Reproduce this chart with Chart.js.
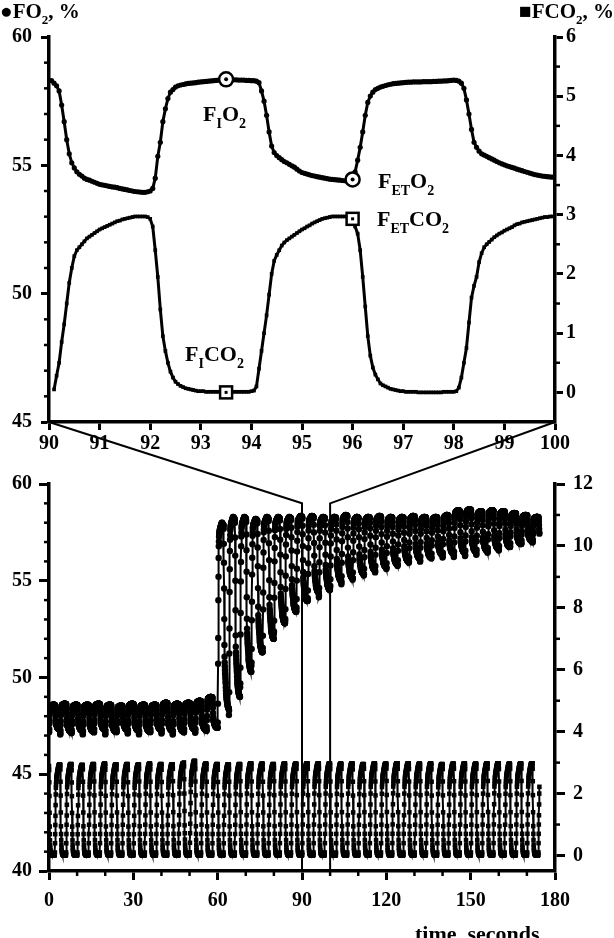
<!DOCTYPE html>
<html>
<head>
<meta charset="utf-8">
<script src="https://cdn.jsdelivr.net/npm/chart.js@4.4.0/dist/chart.umd.min.js"></script>
<style>
  html, body { margin: 0; padding: 0; background: #fff; }
  #wrap { position: relative; width: 614px; height: 938px; overflow: hidden; }
  #wrap canvas { position: absolute; left: 0; top: 0; }
</style>
</head>
<body>
<div id="wrap">
  <canvas id="zoomCanvas" width="614" height="938"></canvas>
  <canvas id="runCanvas" width="614" height="938"></canvas>
</div>
<script>
// zoomed window 90-100 s, one sample every 0.05 s
const zoomStart = 90;
const zoomStep = 0.05;
const zoomO2 = [
  58.3, 58.3, 58.2, 58.1, 57.9, 57.35, 56.7, 56.0, 55.45, 55.1, 54.9, 54.75, 54.65, 54.58, 54.5, 54.45, 54.42, 54.38, 54.34, 54.3,
  54.26, 54.24, 54.22, 54.2, 54.18, 54.16, 54.15, 54.13, 54.1, 54.08, 54.06, 54.04, 54.02, 54.0, 53.98, 53.97, 53.96, 53.95, 53.95, 53.97,
  54.0, 54.1, 54.5, 55.35, 55.9, 56.7, 57.2, 57.6, 57.85, 57.95, 58.05, 58.1, 58.13, 58.15, 58.17, 58.19, 58.2, 58.21, 58.22, 58.24,
  58.25, 58.26, 58.27, 58.28, 58.29, 58.3, 58.31, 58.32, 58.33, 58.34, 58.35, 58.35, 58.34, 58.33, 58.33, 58.32, 58.32, 58.32, 58.31, 58.31,
  58.3, 58.3, 58.28, 58.22, 57.9, 57.5, 56.95, 56.3, 55.75, 55.5, 55.38, 55.3, 55.22, 55.15, 55.1, 55.04, 54.98, 54.93, 54.85, 54.78,
  54.72, 54.69, 54.66, 54.63, 54.6, 54.58, 54.56, 54.54, 54.52, 54.5, 54.48, 54.46, 54.45, 54.44, 54.43, 54.42, 54.41, 54.4, 54.4, 54.4,
  54.45, 54.75, 55.2, 55.7, 56.3, 56.95, 57.45, 57.7, 57.85, 57.95, 58.0, 58.05, 58.08, 58.11, 58.14, 58.16, 58.18, 58.19, 58.2, 58.21,
  58.22, 58.23, 58.24, 58.24, 58.25, 58.25, 58.25, 58.25, 58.26, 58.26, 58.26, 58.26, 58.27, 58.27, 58.28, 58.28, 58.29, 58.29, 58.3, 58.31,
  58.32, 58.31, 58.28, 58.2, 58.0, 57.55, 57.0, 56.4, 55.9, 55.7, 55.55, 55.45, 55.4, 55.35, 55.3, 55.25, 55.2, 55.15, 55.1, 55.06,
  55.02, 54.98, 54.95, 54.92, 54.89, 54.85, 54.82, 54.79, 54.76, 54.73, 54.7, 54.67, 54.64, 54.62, 54.6, 54.58, 54.57, 54.56, 54.55, 54.54,
  54.53
];
const zoomCO2 = [
  null, null, 0.05, 0.28, 0.5, 0.85, 1.15, 1.5, 1.85, 2.1, 2.3, 2.4, 2.45, 2.5, 2.55, 2.6, 2.63, 2.66, 2.69, 2.72,
  2.75, 2.77, 2.79, 2.81, 2.83, 2.85, 2.87, 2.89, 2.9, 2.92, 2.93, 2.94, 2.95, 2.96, 2.97, 2.97, 2.97, 2.97, 2.97, 2.96,
  2.93, 2.8, 2.4, 1.95, 1.4, 0.95, 0.7, 0.5, 0.35, 0.25, 0.18, 0.14, 0.11, 0.09, 0.07, 0.06, 0.05, 0.04, 0.03, 0.02,
  0.02, 0.02, 0.01, 0.01, 0.01, 0.01, 0.01, 0.01, 0.01, 0.01, 0.0, 0.0, 0.01, 0.01, 0.01, 0.01, 0.01, 0.01, 0.01, 0.01,
  0.02, 0.03, 0.1, 0.4, 0.7, 1.0, 1.3, 1.65, 2.0, 2.22, 2.32, 2.4, 2.48, 2.53, 2.57, 2.6, 2.63, 2.66, 2.69, 2.72,
  2.75, 2.77, 2.8, 2.82, 2.85, 2.87, 2.89, 2.91, 2.93, 2.94, 2.95, 2.96, 2.97, 2.97, 2.97, 2.97, 2.97, 2.97, 2.97, 2.97,
  2.93, 2.8, 2.68, 2.4, 1.95, 1.45, 0.95, 0.62, 0.42, 0.3, 0.22, 0.15, 0.12, 0.1, 0.08, 0.06, 0.05, 0.04, 0.03, 0.02,
  0.02, 0.01, 0.01, 0.01, 0.01, 0.01, 0.0, 0.0, 0.0, 0.0, 0.0, 0.0, 0.0, 0.0, 0.0, 0.0, 0.01, 0.01, 0.01, 0.01,
  0.01, 0.02, 0.08, 0.25, 0.5, 0.75, 1.18, 1.6, 1.8, 1.95, 2.2, 2.35, 2.45, 2.5, 2.54, 2.58, 2.62, 2.65, 2.68, 2.7,
  2.73, 2.75, 2.77, 2.79, 2.82, 2.84, 2.85, 2.87, 2.88, 2.89, 2.9, 2.91, 2.92, 2.93, 2.94, 2.95, 2.96, 2.96, 2.97, 2.97,
  2.97
];
// labelled points in the zoom: inspired at 93.5 s, end-tidal at 96 s
const inspTime = 93.5;
const endTidalTime = 96;

// whole run: one breath every 4 s, levels read breath by breath
const breathStart = [0, 4, 8, 12, 16, 20, 24, 28, 32, 36, 40, 44, 48, 52, 56, 60, 64, 68, 72, 76, 80, 84,
  88, 92, 96, 100, 104, 108, 112, 116, 120, 124, 128, 132, 136, 140, 144, 148, 152, 156, 160, 164, 168, 172];
const o2Insp = [48.6, 48.65, 48.6, 48.6, 48.65, 48.6, 48.55, 48.65, 48.6, 48.6, 48.7, 48.65, 48.7, 48.8, 49.0,
  58.0, 58.3, 58.3, 58.2, 58.3, 58.3, 58.3, 58.35, 58.35, 58.3, 58.3, 58.4, 58.3, 58.3, 58.35, 58.3, 58.3,
  58.35, 58.3, 58.3, 58.4, 58.65, 58.7, 58.6, 58.65, 58.6, 58.5, 58.4, 58.3];
const o2EndTidal = [47.3, 47.2, 47.25, 47.2, 47.3, 47.2, 47.3, 47.25, 47.2, 47.3, 47.25, 47.2, 47.3, 47.3, 47.4,
  48.4, 49.0, 50.3, 51.3, 52.0, 52.8, 53.4, 53.95, 54.4, 54.53, 55.0, 55.15, 55.35, 55.55, 55.7, 55.85, 56.0,
  56.15, 56.2, 56.35, 56.4, 56.45, 56.5, 56.55, 56.65, 56.75, 56.9, 57.05, 57.1];
const co2EndTidal = [2.93, 2.95, 2.92, 2.95, 2.96, 2.94, 2.95, 2.93, 2.96, 2.95, 2.94, 2.97, 3.05, 2.96, 2.95,
  2.94, 2.95, 2.97, 2.96, 2.95, 2.97, 2.96, 2.97, 2.97, 2.97, 2.96, 2.97, 2.95, 2.97, 2.96, 2.98, 2.97,
  2.96, 2.97, 2.95, 2.96, 2.97, 2.96, 2.97, 2.98, 2.96, 2.97, 2.98, 2.97];
const co2Insp = [0, 0, 0, 0, 0, 0, 0, 0, 0, 0, 0, 0, 0, 0, 0, 0, 0, 0, 0, 0, 0, 0,
  0, 0, 0, 0, 0, 0, 0, 0, 0, 0, 0, 0, 0, 0, 0, 0, 0, 0, 0, 0, 0, 0];
const runEnd = 174.45;

// tick labels
const zoomXTicks = [90, 91, 92, 93, 94, 95, 96, 97, 98, 99, 100];
const zoomO2Ticks = [45, 50, 55, 60];
const zoomCO2Ticks = [0, 1, 2, 3, 4, 5, 6];
const runXTicks = [0, 30, 60, 90, 120, 150, 180];
const runO2Ticks = [40, 45, 50, 55, 60];
const runCO2Ticks = [0, 2, 4, 6, 8, 10, 12];

const serif = "'Liberation Serif', 'Times New Roman', serif";
const tickFont = { family: serif, size: 20, weight: "bold" };

const idx = (t) => Math.round((t - zoomStart) / zoomStep);
const zoomPoints = (series) => series.map((v, i) => ({ x: zoomStart + i * zoomStep, y: v }));

// breath shape taken from the zoom (92-96 s), stretched between each breath's levels
const cycleFrom = idx(92);
const cycleLen = Math.round(4 / zoomStep);
const cycleInsp = idx(inspTime) - cycleFrom;
function cycleShape(series) {
  const seg = series.slice(cycleFrom, cycleFrom + cycleLen);
  const et = seg[seg.length - 1];
  const fi = seg[cycleInsp];
  return seg.map((v) => (v - et) / (fi - et));
}
function runSeries(shape, insp, endTidal) {
  const pts = [];
  breathStart.forEach((t0, k) => {
    shape.forEach((f, j) => {
      const t = t0 + j * zoomStep;
      if (t > runEnd) return;
      pts.push({ x: t, y: endTidal[k] + f * (insp[k] - endTidal[k]) });
    });
  });
  return pts;
}

function makeAxis(position, min, max, ticks, size, tickLen, pad) {
  return {
    type: "linear",
    position: position,
    min: min,
    max: max,
    afterBuildTicks: (s) => {
      s.ticks = ticks.map((v) => ({ value: v }));
    },
    afterFit: (s) => {
      if (position === "bottom") s.height = size;
      else s.width = size;
    },
    ticks: {
      color: "#000",
      font: tickFont,
      padding: pad,
      autoSkip: false,
      maxRotation: 0,
      callback: (v) => String(v),
    },
    grid: {
      drawOnChartArea: false,
      drawTicks: true,
      tickLength: tickLen,
      tickWidth: 3,
      tickColor: "#000",
    },
    border: { display: true, width: 3.5, color: "#000" },
  };
}

// short unlabeled ticks between the labelled ones
const minorTicks = {
  id: "minorTicks",
  afterDraw(chart, args, opts) {
    const ctx = chart.ctx;
    const area = chart.chartArea;
    ctx.save();
    ctx.strokeStyle = "#000";
    ctx.lineWidth = 2.5;
    Object.keys(opts.axes || {}).forEach((id) => {
      const scale = chart.scales[id];
      const cfg = opts.axes[id];
      cfg.values.forEach((v) => {
        const p = scale.getPixelForValue(v);
        ctx.beginPath();
        if (scale.position === "bottom") {
          ctx.moveTo(p, area.bottom);
          ctx.lineTo(p, area.bottom + cfg.len);
        } else if (scale.position === "left") {
          ctx.moveTo(area.left, p);
          ctx.lineTo(area.left - cfg.len, p);
        } else {
          ctx.moveTo(area.right, p);
          ctx.lineTo(area.right + cfg.len, p);
        }
        ctx.stroke();
      });
    });
    ctx.restore();
  },
};

function drawLabel(ctx, x, y, parts, size) {
  let cx = x;
  parts.forEach(([txt, sub]) => {
    const fs = sub ? Math.round(size * 0.62) : size;
    ctx.font = `bold ${fs}px ${serif}`;
    ctx.fillText(txt, cx, sub ? y + Math.round(size * 0.3) : y);
    cx += ctx.measureText(txt).width;
  });
  return cx - x;
}
function labelWidth(ctx, parts, size) {
  let w = 0;
  parts.forEach(([txt, sub]) => {
    ctx.font = `bold ${sub ? Math.round(size * 0.62) : size}px ${serif}`;
    w += ctx.measureText(txt).width;
  });
  return w;
}

const zoomNotes = {
  id: "zoomNotes",
  afterDraw(chart) {
    const ctx = chart.ctx;
    const xs = chart.scales.x;
    const yO = chart.scales.y;
    const yC = chart.scales.y2;
    ctx.save();
    ctx.fillStyle = "#000";
    ctx.strokeStyle = "#000";
    ctx.textBaseline = "alphabetic";

    // axis titles
    const o2Title = [["\u25CF", false], ["FO", false], ["2", true], [", %", false]];
    const co2Title = [["\u25A0", false], ["FCO", false], ["2", true], [", %", false]];
    drawLabel(ctx, 0, 18, o2Title, 21);
    drawLabel(ctx, 614 - labelWidth(ctx, co2Title, 21), 18, co2Title, 21);

    // marked points
    ctx.lineWidth = 2.5;
    const circleAt = (t, v) => {
      const x = xs.getPixelForValue(t);
      const y = yO.getPixelForValue(v);
      ctx.beginPath();
      ctx.arc(x, y, 7, 0, Math.PI * 2);
      ctx.fillStyle = "#fff";
      ctx.fill();
      ctx.stroke();
      ctx.fillStyle = "#000";
      ctx.beginPath();
      ctx.arc(x, y, 2, 0, Math.PI * 2);
      ctx.fill();
    };
    const squareAt = (t, v) => {
      const x = xs.getPixelForValue(t);
      const y = yC.getPixelForValue(v);
      ctx.fillStyle = "#fff";
      ctx.fillRect(x - 6, y - 6, 12, 12);
      ctx.strokeRect(x - 6, y - 6, 12, 12);
      ctx.fillStyle = "#000";
      ctx.fillRect(x - 1.5, y - 1.5, 3, 3);
    };
    circleAt(inspTime, zoomO2[idx(inspTime)]);
    circleAt(endTidalTime, zoomO2[idx(endTidalTime)]);
    squareAt(inspTime, zoomCO2[idx(inspTime)]);
    squareAt(endTidalTime, zoomCO2[idx(endTidalTime)]);

    ctx.fillStyle = "#000";
    drawLabel(ctx, 203, 121, [["F", false], ["I", true], ["O", false], ["2", true]], 22);
    drawLabel(ctx, 378, 188, [["F", false], ["ET", true], ["O", false], ["2", true]], 22);
    drawLabel(ctx, 377, 226, [["F", false], ["ET", true], ["CO", false], ["2", true]], 22);
    drawLabel(ctx, 185, 361, [["F", false], ["I", true], ["CO", false], ["2", true]], 22);
    ctx.restore();
  },
};

let zoomChart = null;

const zoomLinks = {
  id: "zoomLinks",
  afterDraw(chart) {
    const ctx = chart.ctx;
    const xs = chart.scales.x;
    const yJoin = chart.scales.y.getPixelForValue(59);
    ctx.save();
    ctx.strokeStyle = "#000";
    ctx.lineWidth = 2;
    [zoomXTicks[0], zoomXTicks[zoomXTicks.length - 1]].forEach((t) => {
      ctx.beginPath();
      ctx.moveTo(zoomChart.scales.x.getPixelForValue(t), zoomChart.chartArea.bottom);
      ctx.lineTo(xs.getPixelForValue(t), yJoin);
      ctx.lineTo(xs.getPixelForValue(t), chart.chartArea.bottom);
      ctx.stroke();
    });
    ctx.font = `bold 22px ${serif}`;
    ctx.fillStyle = "#000";
    ctx.fillText("time, seconds", 415, 941);
    ctx.restore();
  },
};

const lineStyle = (pointStyle, radius, width) => ({
  borderColor: "#000",
  backgroundColor: "#000",
  borderWidth: width,
  pointStyle: pointStyle,
  pointRadius: radius,
  pointBorderWidth: 0,
  pointBackgroundColor: "#000",
  tension: 0,
  spanGaps: false,
});

zoomChart = new Chart(document.getElementById("zoomCanvas"), {
  type: "line",
  data: {
    datasets: [
      { data: zoomPoints(zoomO2), yAxisID: "y", ...lineStyle("circle", 2.6, 3) },
      { data: zoomPoints(zoomCO2), yAxisID: "y2", ...lineStyle("rect", 2.6, 3) },
    ],
  },
  options: {
    responsive: false,
    animation: false,
    events: [],
    layout: { padding: { top: 37, bottom: 938 - 422 - 30, left: 0, right: 0 } },
    plugins: {
      legend: { display: false },
      tooltip: { enabled: false },
      minorTicks: {
        axes: {
          y: { values: [46, 47, 48, 49, 51, 52, 53, 54, 56, 57, 58, 59], len: 5 },
          y2: { values: [0.5, 1.5, 2.5, 3.5, 4.5, 5.5], len: 5 },
        },
      },
    },
    scales: {
      x: makeAxis("bottom", 90, 100, zoomXTicks, 30, 8, 2),
      y: makeAxis("left", 45, 60, zoomO2Ticks, 49, 8, 9),
      y2: makeAxis("right", -0.5, 6, zoomCO2Ticks, 59, 8, 3),
    },
  },
  plugins: [minorTicks, zoomNotes],
});

const o2Shape = cycleShape(zoomO2);
const co2Shape = cycleShape(zoomCO2);

new Chart(document.getElementById("runCanvas"), {
  type: "line",
  data: {
    datasets: [
      { data: runSeries(o2Shape, o2Insp, o2EndTidal), yAxisID: "y", ...lineStyle("circle", 3.2, 2) },
      { data: runSeries(co2Shape, co2Insp, co2EndTidal), yAxisID: "y2", ...lineStyle("rect", 3.2, 2) },
    ],
  },
  options: {
    responsive: false,
    animation: false,
    events: [],
    layout: { padding: { top: 484, bottom: 938 - 871 - 60, left: 0, right: 0 } },
    plugins: {
      legend: { display: false },
      tooltip: { enabled: false },
      minorTicks: {
        axes: {
          x: { values: [10, 20, 40, 50, 70, 80, 100, 110, 130, 140, 160, 170], len: 5 },
          y: { values: [41, 42, 43, 44, 46, 47, 48, 49, 51, 52, 53, 54, 56, 57, 58, 59], len: 5 },
          y2: { values: [1, 3, 5, 7, 9, 11], len: 5 },
        },
      },
    },
    scales: {
      x: makeAxis("bottom", 0, 180, runXTicks, 60, 9, 9),
      y: makeAxis("left", 40, 60, runO2Ticks, 49, 10, 7),
      y2: makeAxis("right", -0.5, 12, runCO2Ticks, 59, 10, 8),
    },
  },
  plugins: [minorTicks, zoomLinks],
});
</script>
</body>
</html>
